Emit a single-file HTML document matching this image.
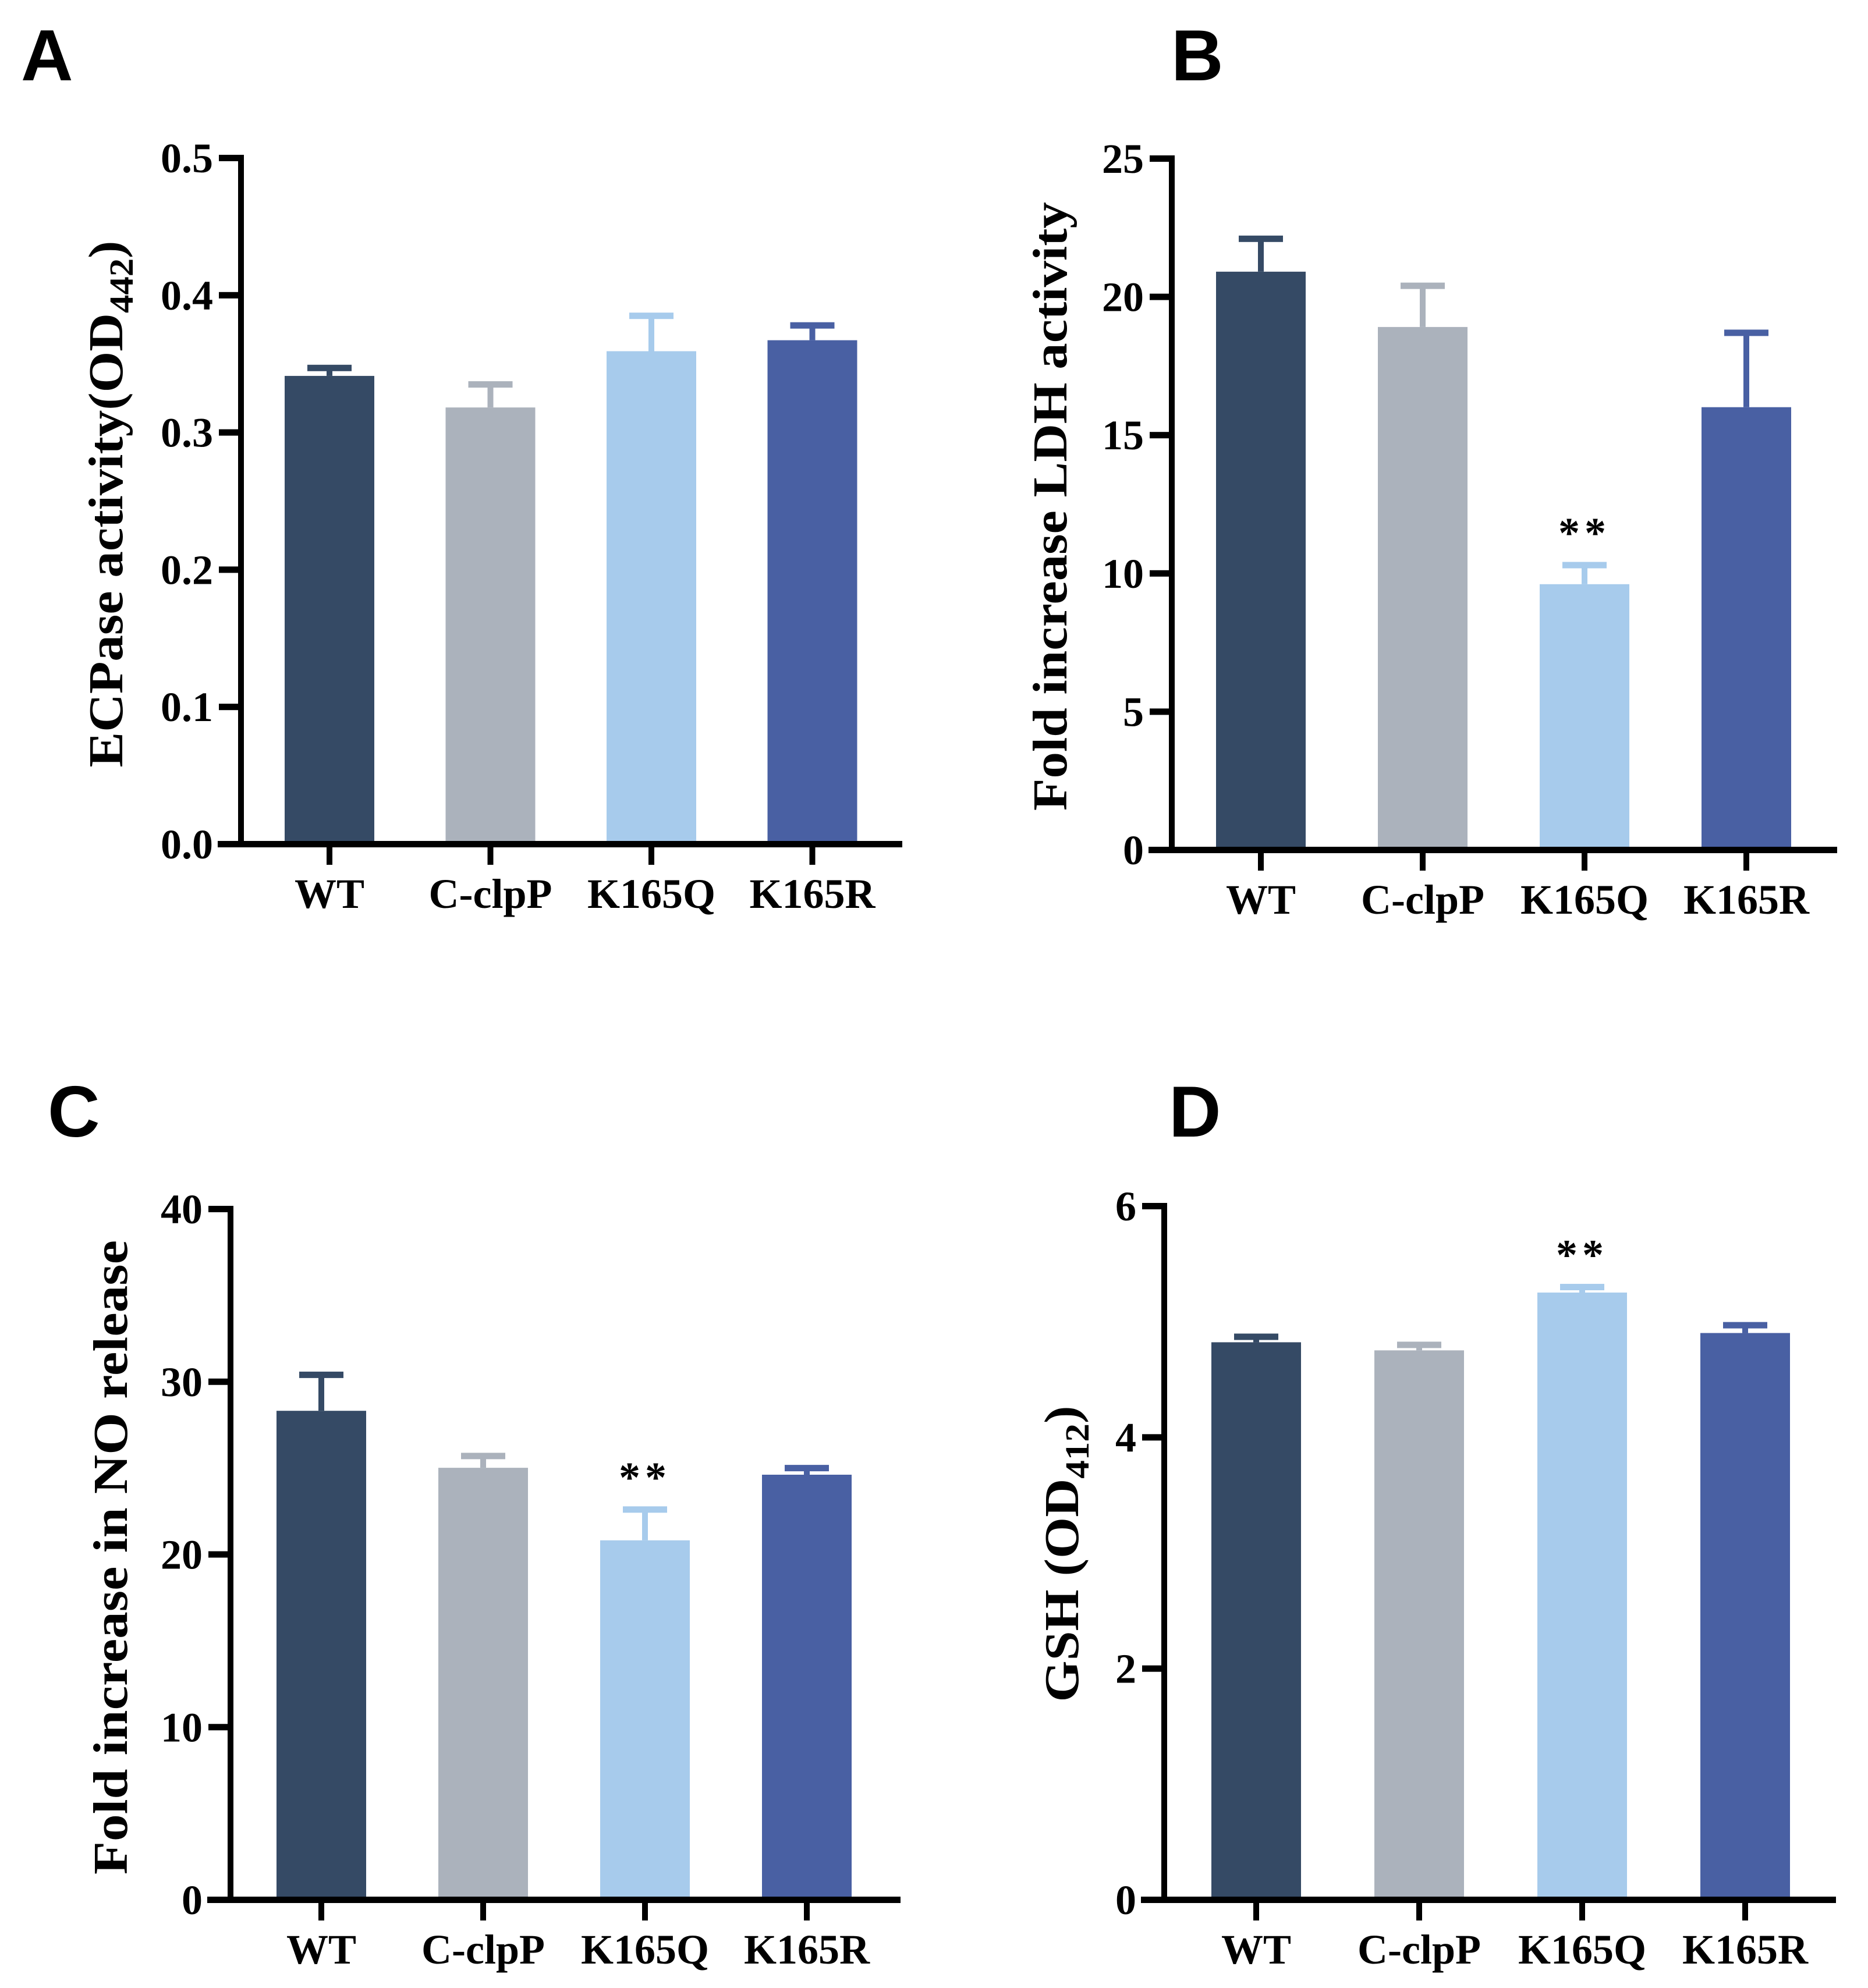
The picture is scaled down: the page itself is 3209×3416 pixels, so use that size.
<!DOCTYPE html>
<html><head><meta charset="utf-8"><style>
html,body{margin:0;padding:0;background:#fff}
svg{display:block}
</style></head><body>
<svg id="fig" width="3209" height="3416" viewBox="0 0 3209 3416" xmlns="http://www.w3.org/2000/svg"></svg>
<script>
const categories = ["WT","C-clpP","K165Q","K165R"];
const colors = ["#354a65","#abb2bc","#a7cbec","#4960a3"];
const aMeans = [0.341,0.318,0.359,0.367];
const aUpper = [0.347,0.335,0.385,0.378];
const aTicks = ["0.0","0.1","0.2","0.3","0.4","0.5"];
const bMeans = [20.9,18.9,9.6,16.0];
const bUpper = [22.1,20.4,10.3,18.7];
const bTicks = ["0","5","10","15","20","25"];
const cMeans = [28.3,25.0,20.8,24.6];
const cUpper = [30.4,25.7,22.6,25.0];
const cTicks = ["0","10","20","30","40"];
const dMeans = [4.82,4.75,5.25,4.90];
const dUpper = [4.87,4.80,5.30,4.97];
const dTicks = ["0","2","4","6"];
const bSig = ["","","**",""];
const cSig = ["","","**",""];
const dSig = ["","","**",""];

const NS="http://www.w3.org/2000/svg";
const svg=document.getElementById('fig');
function mk(tag,attrs,parent){const e=document.createElementNS(NS,tag);for(const k in attrs)e.setAttribute(k,attrs[k]);(parent||svg).appendChild(e);return e;}

function panel(p){
  const g=mk('g',{});
  
  
  const L=mk('text',{x:p.lx,y:p.ly,'font-family':'Liberation Sans, sans-serif','font-weight':'bold','font-size':124},g);
  L.textContent=p.letter;
  
  
  const ymax=parseFloat(p.ticks[p.ticks.length-1]);
  const Y=v=>p.y0-(v/ymax)*(p.y0-p.ytop);
  const X=i=>p.x0+p.firstC+i*p.step;
  const bw=154;
  for(let i=0;i<categories.length;i++){
    const cx=X(i), top=Y(p.means[i]), up=Y(p.upper[i]);
    const st=mk('rect',{x:cx-5,y:up,width:10,height:top-up,fill:colors[i]},g);
    
    
    const cap=mk('rect',{x:cx-38,y:up-5,width:76,height:11,fill:colors[i]},g);
    
    
    const b=mk('rect',{x:cx-bw/2,y:top,width:bw,height:p.y0-top,fill:colors[i]},g);
    
    
    if(p.sig && p.sig[i]){
      const s=mk('text',{x:cx,y:up-30,'text-anchor':'middle','font-family':'Liberation Serif, serif','font-weight':'bold','font-size':74,'letter-spacing':8},g);
      s.textContent=p.sig[i];
      
      
    }
    const tk=mk('rect',{x:cx-5,y:p.y0,width:10,height:36,fill:'#000'},g);
    
    
    const cl=mk('text',{x:cx,y:p.y0+110,'text-anchor':'middle','font-family':'Liberation Serif, serif','font-weight':'bold','font-size':72},g);
    cl.textContent=categories[i];
    
    
  }
  const ya=mk('rect',{x:p.x0-5,y:p.ytop-5,width:10,height:p.y0-p.ytop+10,fill:'#000'},g);
  
  
  const xa=mk('rect',{x:p.x0-40,y:p.y0-5,width:p.xend-p.x0+40,height:11,fill:'#000'},g);
  
  
  p.ticks.forEach(t=>{
    const yy=Y(parseFloat(t));
    const tk=mk('rect',{x:p.x0-38,y:yy-5,width:38,height:11,fill:'#000'},g);
    
    
    const tl=mk('text',{x:p.x0-48,y:yy+25,'text-anchor':'end','font-family':'Liberation Serif, serif','font-weight':'bold','font-size':72},g);
    tl.textContent=t;
    
    
  });
  const tt=mk('text',{x:0,y:0,'text-anchor':'middle','font-family':'Liberation Serif, serif','font-weight':'bold','font-size':84,transform:`translate(${p.tx},${p.ty}) rotate(-90)`,textLength:p.tlen,lengthAdjust:'spacingAndGlyphs'},g);
  
  
  tt.innerHTML=p.title;
}

panel({letter:'A',lx:36,ly:138,x0:414,ytop:271,y0:1450,xend:1550,firstC:152,step:276.5,means:aMeans,upper:aUpper,ticks:aTicks,sig:null,tx:210,ty:866,tlen:905,
  title:'ECPase activity(OD<tspan font-size="58" dy="18">442</tspan><tspan dy="-18">)</tspan>'});
panel({letter:'B',lx:2012,ly:138,x0:2013,ytop:272,y0:1460,xend:3156,firstC:153,step:278,means:bMeans,upper:bUpper,ticks:bTicks,sig:bSig,tx:1832,ty:870,tlen:1046,
  title:'Fold increase LDH activity'});
panel({letter:'C',lx:82,ly:1953,x0:396,ytop:2077,y0:3264,xend:1547,firstC:156,step:278,means:cMeans,upper:cUpper,ticks:cTicks,sig:cSig,tx:218,ty:2676,tlen:1090,
  title:'Fold increase in NO release'});
panel({letter:'D',lx:2008,ly:1953,x0:2000,ytop:2072,y0:3264,xend:3154,firstC:158,step:280,means:dMeans,upper:dUpper,ticks:dTicks,sig:dSig,tx:1852,ty:2670,tlen:509,
  title:'GSH (OD<tspan font-size="58" dy="18">412</tspan><tspan dy="-18">)</tspan>'});
</script>
</body></html>
